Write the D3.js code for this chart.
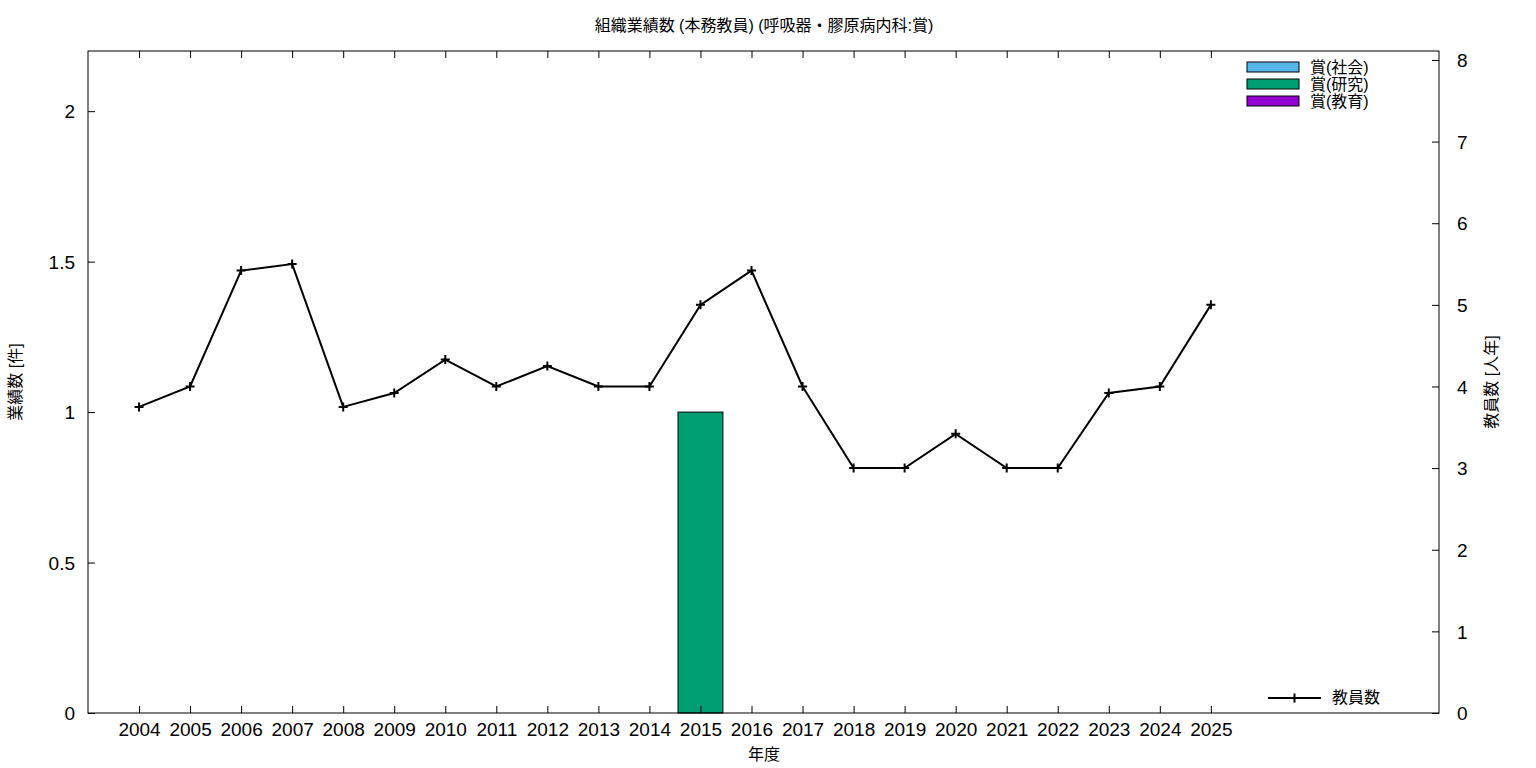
<!DOCTYPE html>
<html><head><meta charset="utf-8">
<script src="https://cdn.jsdelivr.net/npm/d3@7"></script>
<style>
body{margin:0;background:#fff;}
text{font-family:"Liberation Sans","Noto Sans CJK JP",sans-serif;fill:#000;}
</style></head>
<body><svg id="c" width="1536" height="768"></svg>
<script>
const years = [2004,2005,2006,2007,2008,2009,2010,2011,2012,2013,2014,2015,2016,2017,2018,2019,2020,2021,2022,2023,2024,2025];
const staff = [3.75,4.0,5.42,5.5,3.75,3.92,4.33,4.0,4.25,4.0,4.0,5.0,5.42,4.0,3.0,3.0,3.42,3.0,3.0,3.92,4.0,5.0];
const awardSocial = [0,0,0,0,0,0,0,0,0,0,0,0,0,0,0,0,0,0,0,0,0,0];
const awardResearch = [0,0,0,0,0,0,0,0,0,0,0,1,0,0,0,0,0,0,0,0,0,0];
const awardEducation = [0,0,0,0,0,0,0,0,0,0,0,0,0,0,0,0,0,0,0,0,0,0];
const leftTicks = [0,0.5,1,1.5,2];
const rightTicks = [0,1,2,3,4,5,6,7,8];
const seriesNames = ["賞(社会)","賞(研究)","賞(教育)"];
const seriesColors = ["#56b4e9","#009e73","#9400d3"];
const title = "組織業績数 (本務教員) (呼吸器・膠原病内科:賞)";

const L=88,R=1439,T=51,B=713;
const svg=d3.select("#c");
const x=d3.scaleLinear().domain([2003,2029.47]).range([L,R]);
const y=d3.scaleLinear().domain([0,2.2]).range([B,T]);
const y2=d3.scaleLinear().domain([0,8.11]).range([B,T]);
const unit = x(2005)-x(2004);
const bw = unit*0.88;

// stacked bars
const stacks=[awardSocial,awardResearch,awardEducation];
years.forEach((yr,i)=>{
  let base=0;
  stacks.forEach((s,k)=>{
    const v=s[i];
    if(v>0){
      svg.append("rect").attr("x",x(yr)-bw/2).attr("y",y(base+v)).attr("width",bw).attr("height",y(base)-y(base+v))
        .attr("fill",seriesColors[k]).attr("stroke","#000").attr("stroke-width",1);
    }
    base+=v;
  });
});

// border
svg.append("rect").attr("x",L).attr("y",T).attr("width",R-L).attr("height",B-T).attr("fill","none").attr("stroke","#000").attr("stroke-width",1);

// axes
const ax=svg.append("g").attr("transform",`translate(0,${B})`).call(d3.axisBottom(x).tickValues(years).tickFormat(d3.format("d")).tickSizeInner(-7).tickSizeOuter(0).tickPadding(10));
const axTop=svg.append("g").attr("transform",`translate(0,${T})`).call(d3.axisTop(x).tickValues(years).tickFormat("").tickSizeInner(-7).tickSizeOuter(0));
const ay=svg.append("g").attr("transform",`translate(${L},0)`).call(d3.axisLeft(y).tickValues(leftTicks).tickFormat(d=>String(d)).tickSizeInner(-7).tickSizeOuter(0).tickPadding(13));
const ay2=svg.append("g").attr("transform",`translate(${R},0)`).call(d3.axisRight(y2).tickValues(rightTicks).tickFormat(d3.format("d")).tickSizeInner(-7).tickSizeOuter(0).tickPadding(18));
[ax,axTop,ay,ay2].forEach(g=>{
  g.select(".domain").remove();
  g.selectAll("line").attr("stroke","#000");
  g.selectAll("text").style("font-size","19px").attr("fill","#000");
});
ay.selectAll("text").attr("dy","0.35em");
ay2.selectAll("text").attr("dy","0.35em");

// line
const line=d3.line().x((d,i)=>x(years[i])).y(d=>y2(d));
svg.append("path").datum(staff).attr("d",line).attr("fill","none").attr("stroke","#000").attr("stroke-width",2);
const pts=svg.append("g");
staff.forEach((v,i)=>{
  const cx=x(years[i]),cy=y2(v);
  pts.append("path").attr("d",`M${cx-4.5},${cy}H${cx+4.5}M${cx},${cy-4.5}V${cy+4.5}`).attr("stroke","#000").attr("stroke-width",2);
});

// titles
svg.append("text").attr("x",764).attr("y",31).attr("text-anchor","middle").style("font-size","16px").text(title);
svg.append("text").attr("x",764).attr("y",760).attr("text-anchor","middle").style("font-size","16px").text("年度");
svg.append("text").attr("transform","translate(21,382) rotate(-90)").attr("text-anchor","middle").style("font-size","16px").text("業績数 [件]");
svg.append("text").attr("transform","translate(1497,382) rotate(-90)").attr("text-anchor","middle").style("font-size","16px").text("教員数 [人年]");

// legend top-right
seriesNames.forEach((n,k)=>{
  const yy=67+k*17;
  svg.append("rect").attr("x",1247).attr("y",yy-5).attr("width",52).attr("height",10).attr("fill",seriesColors[k]).attr("stroke","#000").attr("stroke-width",1);
  svg.append("text").attr("x",1310).attr("y",yy+6).style("font-size","16px").text(n);
});
// line legend
svg.append("path").attr("d","M1268,698H1321").attr("stroke","#000").attr("stroke-width",2);
svg.append("path").attr("d","M1294.5,693.5V702.5").attr("stroke","#000").attr("stroke-width",2);
svg.append("text").attr("x",1332).attr("y",703).style("font-size","16px").text("教員数");
</script></body></html>
